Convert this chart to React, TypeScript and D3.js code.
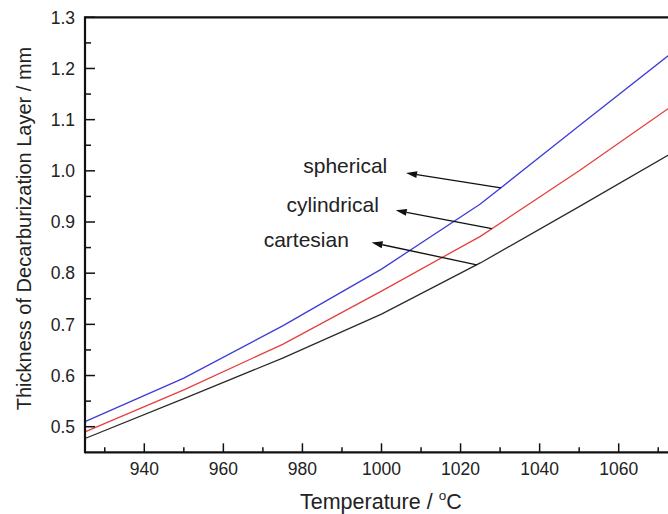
import React from "react";
import * as d3 from "d3";

const temperatures = [925, 950, 975, 1000, 1025, 1050, 1075];
const spherical = [0.51, 0.595, 0.697, 0.808, 0.935, 1.088, 1.24];
const cylindrical = [0.49, 0.572, 0.661, 0.765, 0.872, 1.0, 1.135];
const cartesian = [0.477, 0.555, 0.634, 0.72, 0.82, 0.93, 1.042];

const xMajorTicks = [940, 960, 980, 1000, 1020, 1040, 1060];
const xMinorTicks = [930, 950, 970, 990, 1010, 1030, 1050, 1070];
const yMajorTicks = [0.5, 0.6, 0.7, 0.8, 0.9, 1.0, 1.1, 1.2, 1.3];
const yMinorTicks = [0.55, 0.65, 0.75, 0.85, 0.95, 1.05, 1.15, 1.25];

const seriesNames = ["spherical", "cylindrical", "cartesian"];
const seriesValues = [spherical, cylindrical, cartesian];
const seriesColors = ["#3d3dd6", "#e63f3f", "#2b2b2b"];

// annotation: label position, arrow tip, and the temperature where the arrow tail meets the curve
const labelT = [980.2, 976.0, 970.2];
const labelV = [0.996, 0.92, 0.851];
const tipT = [1006.2, 1003.6, 997.5];
const tipV = [0.996, 0.923, 0.86];
const tailT = [1030.2, 1027.9, 1024.1];

const W = 668;
const H = 514;
const FONT = "'Liberation Sans', Arial, Helvetica, sans-serif";

export default function App() {
  const x = d3.scaleLinear().domain([925, 1075]).range([85, 678]);
  const y = d3.scaleLinear().domain([0.45, 1.3]).range([452.3, 17.3]);

  const line = d3
    .line<number>()
    .x((_, i) => x(temperatures[i]))
    .y((d) => y(d));

  const interp = (vals: number[], t: number) =>
    d3.scaleLinear().domain(temperatures).range(vals)(t);

  const axisColor = "#111";

  return (
    <svg
      width={W}
      height={H}
      style={{ position: "absolute", left: 0, top: 0, background: "#fff" }}
      fontFamily={FONT}
    >
      <rect x={0} y={0} width={W} height={H} fill="#fff" />

      {/* curves */}
      {seriesValues.map((vals, k) => (
        <path
          key={seriesNames[k]}
          d={line(vals) || ""}
          fill="none"
          stroke={seriesColors[k]}
          strokeWidth={1.3}
        />
      ))}

      {/* axes frame */}
      <line x1={x(925)} x2={x(1075)} y1={y(0.45)} y2={y(0.45)} stroke={axisColor} strokeWidth={2.2} />
      <line x1={x(925)} x2={x(1075)} y1={y(1.3)} y2={y(1.3)} stroke={axisColor} strokeWidth={2.2} />
      <line x1={x(925)} x2={x(925)} y1={y(0.45) + 1} y2={y(1.3) - 1} stroke={axisColor} strokeWidth={2.2} />
      <line x1={x(1075)} x2={x(1075)} y1={y(0.45)} y2={y(1.3)} stroke={axisColor} strokeWidth={2.2} />

      {/* x ticks */}
      {xMajorTicks.map((t) => (
        <g key={"xm" + t}>
          <line x1={x(t)} x2={x(t)} y1={y(0.45)} y2={y(0.45) - 9} stroke={axisColor} strokeWidth={1.5} />
          <text x={x(t)} y={475} textAnchor="middle" fontSize={17.5} fill="#222">
            {t}
          </text>
        </g>
      ))}
      {xMinorTicks.map((t) => (
        <line key={"xn" + t} x1={x(t)} x2={x(t)} y1={y(0.45)} y2={y(0.45) - 5} stroke={axisColor} strokeWidth={1.5} />
      ))}

      {/* y ticks */}
      {yMajorTicks.map((v) => (
        <g key={"ym" + v}>
          <line x1={x(925)} x2={x(925) + 10} y1={y(v)} y2={y(v)} stroke={axisColor} strokeWidth={1.5} />
          <text x={75} y={y(v)} dy="0.36em" textAnchor="end" fontSize={17.5} fill="#222">
            {v.toFixed(1)}
          </text>
        </g>
      ))}
      {yMinorTicks.map((v) => (
        <line key={"yn" + v} x1={x(925)} x2={x(925) + 6} y1={y(v)} y2={y(v)} stroke={axisColor} strokeWidth={1.5} />
      ))}

      {/* axis titles */}
      <text
        transform={`translate(31, ${228.5}) rotate(-90)`}
        textAnchor="middle"
        fontSize={20}
        fill="#222"
      >
        Thickness of Decarburization Layer / mm
      </text>
      <text x={300} y={509} fontSize={21.5} fill="#222">
        Temperature /{" "}
        <tspan fontSize={13.5} dy={-9}>o</tspan>
        <tspan dy={9}>C</tspan>
      </text>

      {/* annotations */}
      {seriesNames.map((name, k) => {
        const tx = x(tipT[k]);
        const ty = y(tipV[k]);
        const sx = x(tailT[k]);
        const sy = y(interp(seriesValues[k], tailT[k]));
        const ang = Math.atan2(ty - sy, tx - sx);
        const L = 11;
        const hw = 3.5;
        const bx = tx - L * Math.cos(ang);
        const by = ty - L * Math.sin(ang);
        const px = -Math.sin(ang) * hw;
        const py = Math.cos(ang) * hw;
        return (
          <g key={"ann" + name}>
            <line x1={sx} y1={sy} x2={bx} y2={by} stroke="#111" strokeWidth={1.3} />
            <path
              d={`M${tx},${ty}L${bx + px},${by + py}L${bx - px},${by - py}Z`}
              fill="#111"
            />
            <text x={x(labelT[k])} y={y(labelV[k])} fontSize={21} fill="#222">
              {name}
            </text>
          </g>
        );
      })}
    </svg>
  );
}
